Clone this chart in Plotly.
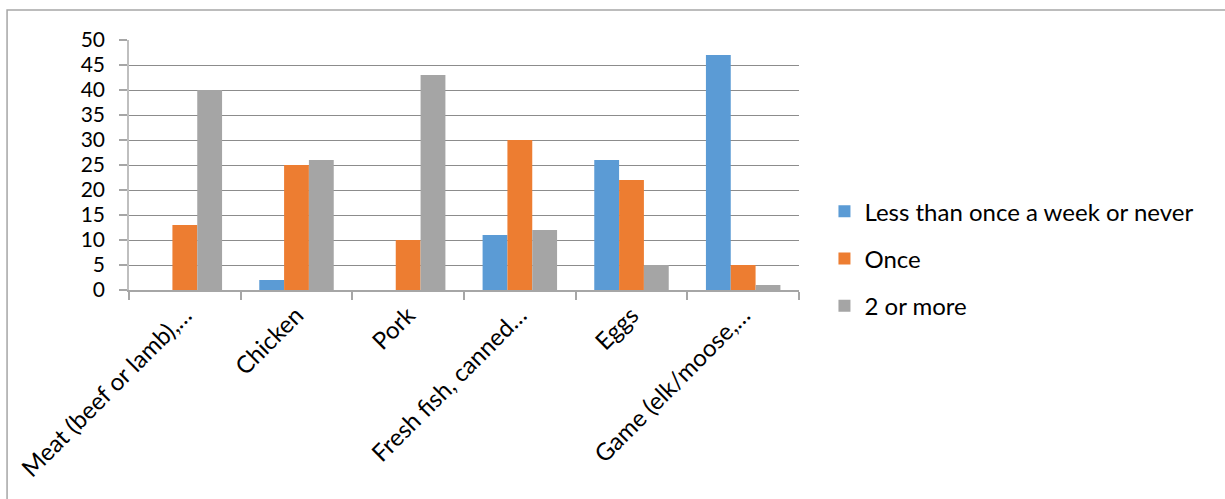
import plotly.graph_objects as go

categories = [
    "Meat (beef or lamb),…",
    "Chicken",
    "Pork",
    "Fresh fish, canned…",
    "Eggs",
    "Game (elk/moose,…",
]
less_than_weekly = [0, 2, 0, 11, 26, 47]
once = [13, 25, 10, 30, 22, 5]
two_or_more = [40, 26, 43, 12, 5, 1]
y_ticks = [0, 5, 10, 15, 20, 25, 30, 35, 40, 45, 50]

series = [
    ("Less than once a week or never", less_than_weekly, "#5B9BD5"),
    ("Once", once, "#ED7D31"),
    ("2 or more", two_or_more, "#A5A5A5"),
]

FONT = "Lato, Calibri, sans-serif"
FS = 24

fig = go.Figure()
for i, (name, vals, color) in enumerate(series):
    fig.add_trace(go.Bar(
        x=categories, y=vals, name=name,
        marker=dict(color=color, line=dict(width=0)),
        legendgroup=f"g{i}",
    ))

fig.update_layout(
    width=1225, height=499,
    margin=dict(l=129, r=426, t=40, b=209),
    paper_bgcolor="white", plot_bgcolor="white",
    barmode="group", bargap=0.333, bargroupgap=0,
    font=dict(family=FONT, size=FS, color="#000000"),
    legend=dict(
        x=1.038, xanchor="left", y=0.125, yanchor="middle",
        font=dict(family=FONT, size=FS, color="#000000"),
        traceorder="grouped", tracegroupgap=13,
        itemwidth=30, bgcolor="rgba(0,0,0,0)",
    ),
    xaxis=dict(
        type="category", automargin=False,
        showline=True, linecolor="#A6A6A6", linewidth=1.5,
        ticks="outside", tickson="boundaries", ticklen=8,
        tickcolor="#A6A6A6", tickwidth=1.5,
        tickangle=-45, showgrid=False,
        tickfont=dict(family=FONT, size=24, color="#000000"),
    ),
    yaxis=dict(
        range=[0, 50], tickvals=y_ticks, automargin=False,
        showline=True, linecolor="#BFBFBF", linewidth=1.5,
        ticks="outside", ticklen=8, tickcolor="#A6A6A6", tickwidth=1.5,
        showgrid=True, gridcolor="#8C8C8C", gridwidth=1.3,
        zeroline=False, ticklabelstandoff=10,
        tickfont=dict(family=FONT, size=21, color="#000000"),
    ),
    shapes=[dict(
        type="rect", xref="paper", yref="paper",
        x0=-0.182, x1=2.0, y0=-2.0, y1=1.12,
        line=dict(color="#A6A6A6", width=1.5), fillcolor="rgba(0,0,0,0)",
        layer="below",
    )],
)

fig.write_html("out.html")
